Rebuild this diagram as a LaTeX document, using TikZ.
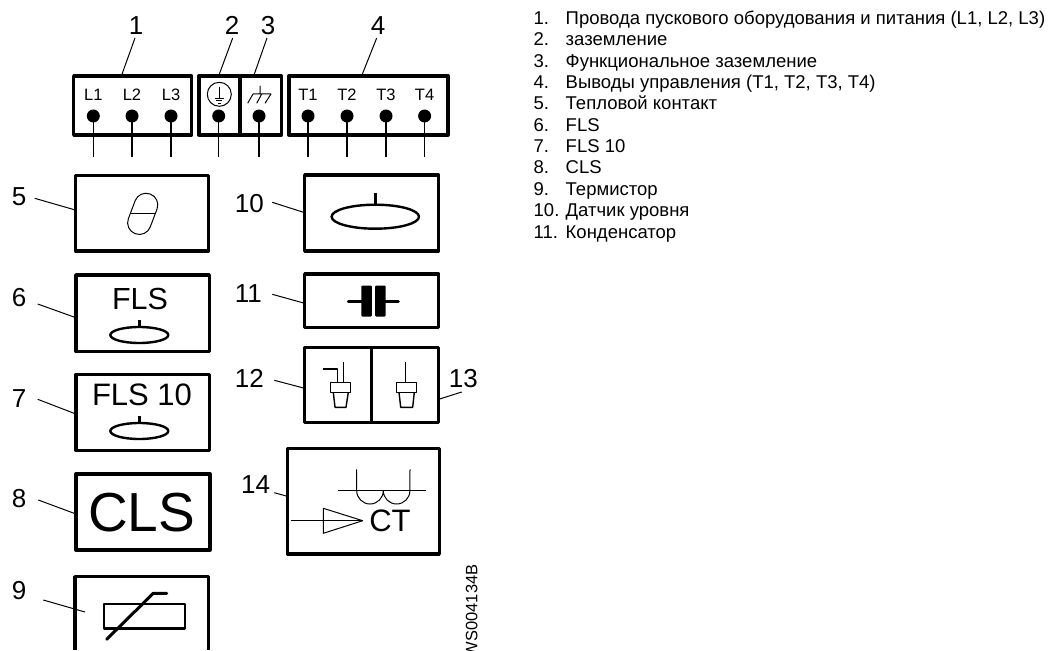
\documentclass[tikz,border=0pt]{standalone}
\usepackage{fontspec}
\usetikzlibrary{shapes.geometric}
\setmainfont{Liberation Sans}
\begin{document}
\begin{tikzpicture}[x=1pt,y=-1pt,line join=round,
  frame/.style={draw,line width=3.3pt,inner sep=0pt,outer sep=0pt},
  lead/.style={draw,line width=1pt},
  wire/.style={draw,line width=1.5pt},
  thin sym/.style={draw,line width=1pt},
  sym/.style={draw,line width=1.4pt},
  heavy/.style={draw,line width=2.4pt},
  dot/.style={circle,fill=black,minimum size=13pt,inner sep=0pt,outer sep=0pt},
  num/.style={inner sep=0pt,font=\fontsize{26}{26}\selectfont},
  term/.style={inner sep=0pt,font=\fontsize{16.5}{16.5}\selectfont},
  big/.style={inner sep=0pt,font=\fontsize{31}{31}\selectfont},
  item/.style={inner sep=0pt,anchor=base west,font=\fontsize{18.5}{18.5}\selectfont}]
\useasboundingbox (0,0) rectangle (1056,650);
% terminal boxes
\node[frame,minimum width=118pt,minimum height=59pt] (bL) at (132.6,105.5) {};
\node[frame,minimum width=41pt,minimum height=59pt] (bG) at (219.5,105.5) {};
\node[frame,minimum width=41.5pt,minimum height=59pt] (bF) at (260.5,105.5) {};
\node[frame,minimum width=159pt,minimum height=59pt] (bT) at (368.5,105.5) {};
% terminals
\foreach \n/\x/\t in {L1/93.3/L1,L2/132/L2,L3/171/L3,T1/308/T1,T2/347/T2,T3/386/T3,T4/424.6/T4}{
  \node[term] (t\n) at (\x,95) {\t};
}
\foreach \n/\x in {L1/93.3,L2/132,L3/171,G/218.7,F/259,T1/308,T2/347,T3/386,T4/424.6}{
  \node[dot] (d\n) at (\x,116) {};
  \coordinate (e\n) at (\x,157);
  \draw[wire] (d\n.center) -- (e\n);
}
% earth symbol
\node[draw,circle,line width=1pt,minimum size=24pt,inner sep=0pt] (earth) at (219.3,94.3) {};
\draw[thin sym] (219.3,87.5) -- (219.3,98.3) (214.6,98.3) -- (224,98.3) (216.3,101) -- (222.3,101) (218,103.3) -- (220.6,103.3);
% functional earth
\draw[thin sym] (260,86) -- (260,94) (253,94) -- (271,94)
  (253,94) -- (247.7,103.3) (261.7,94) -- (256.7,103.3) (271,94) -- (265,103.3);
% callouts 1-4
\node[num] (n1) at (136,25.7) {1};
\node[num] (n2) at (232,25.7) {2};
\node[num] (n3) at (268,25.7) {3};
\node[num] (n4) at (378,25.7) {4};
\coordinate (a1) at (135,38); \coordinate (a2) at (232.7,38); \coordinate (a3) at (267,38); \coordinate (a4) at (376.7,38);
\coordinate (c1) at (121.7,75); \coordinate (c2) at (219,75); \coordinate (c3) at (254,75); \coordinate (c4) at (362,75);
\foreach \i in {1,2,3,4}{\draw[lead] (a\i) -- (c\i);}
% left column
\node[frame,minimum width=133.4pt,minimum height=75.3pt] (b5) at (142,213.3) {};
\node[frame,minimum width=133.4pt,minimum height=76.7pt] (b6) at (142.6,313.3) {};
\node[frame,minimum width=133.4pt,minimum height=76.4pt] (b7) at (142.6,412.5) {};
\node[frame,minimum width=134pt,minimum height=76pt] (b8) at (143,512) {};
\coordinate (b9a) at (75,650); \coordinate (b9b) at (75,576.7); \coordinate (b9c) at (208.7,576.7); \coordinate (b9d) at (208.7,650);
\draw[line width=3.3pt] (b9a) -- (b9b) -- (b9c) -- (b9d);
\node[num] (n5) at (19,196.7) {5};
\node[num] (n6) at (19,297.7) {6};
\node[num] (n7) at (19,398.5) {7};
\node[num] (n8) at (19,499) {8};
\node[num] (n9) at (19,590.7) {9};
\draw[lead] (34.7,198.3) -- (b5.west |- 0,210);
\draw[lead] (37.7,304) -- (b6.west |- 0,317.7);
\draw[lead] (37.7,399.3) -- (b7.west |- 0,414);
\draw[lead] (38.3,500) -- (b8.west |- 0,514);
\draw[lead] (43.3,600) -- (85,612);
% thermal contact
\begin{scope}[shift={(142.7,213.85)},rotate=-20.7]
  \draw[line width=1pt,rounded corners=11.6pt] (-11.7,-21.2) rectangle (11.7,21.2);
\end{scope}
\draw[thin sym] (130.7,213.3) -- (155.7,213.3);
% FLS
\node[big,font=\fontsize{30.5}{30.5}\selectfont] (fls) at (140,299.3) {FLS};
\node[draw,ellipse,line width=2.4pt,minimum width=58pt,minimum height=16pt,inner sep=0pt] (e6) at (139.3,335) {};
\coordinate (s6) at (139.3,320);
\draw[heavy] (s6) -- (e6.north);
\node[big] (fls10) at (142,395) {FLS 10};
\node[draw,ellipse,line width=2.4pt,minimum width=58pt,minimum height=16pt,inner sep=0pt] (e7) at (139.3,431) {};
\coordinate (s7) at (139.3,416);
\draw[heavy] (s7) -- (e7.north);
\node[inner sep=0pt,font=\fontsize{55}{55}\selectfont] (cls) at (141.7,512.7) {CLS};
% thermistor
\node[draw,line width=2.5pt,minimum width=81pt,minimum height=24.3pt,inner sep=0pt] (th) at (144.5,616.2) {};
\draw[line width=3pt,line cap=round] (106.7,639.3) -- (153.3,593.3) -- (166.7,593.3);
% right column
\node[frame,minimum width=134pt,minimum height=76pt] (b10) at (371.7,213) {};
\node[frame,minimum width=134pt,minimum height=53.7pt] (b11) at (371.7,300.85) {};
\node[frame,minimum width=67pt,minimum height=74.6pt] (b12) at (338.2,385) {};
\node[frame,minimum width=67pt,minimum height=74.6pt] (b13) at (405.2,385) {};
\node[frame,minimum width=152pt,minimum height=105.7pt] (b14) at (363.3,501.15) {};
\node[num] (n10) at (249.3,203.3) {10};
\node[num] (n11) at (248.3,294) {11};
\node[num] (n12) at (249.3,378.3) {12};
\node[num] (n13) at (463.3,378.3) {13};
\node[num] (n14) at (255.7,484.3) {14};
\draw[lead] (272.3,202.3) -- (b10.west |- 0,212.7);
\draw[lead] (272.3,294.3) -- (b11.west |- 0,303.3);
\draw[lead] (274.3,380.3) -- (b12.west |- 0,388.3);
\draw[lead] (461.7,392) -- (b13.east |- 0,399.3);
\draw[lead] (274.3,492.7) -- (b14.west |- 0,496.3);
% level sensor
\node[draw,ellipse,line width=2.4pt,minimum width=87.4pt,minimum height=24pt,inner sep=0pt] (e10) at (375.3,216.7) {};
\coordinate (s10) at (375.3,192.7);
\draw[heavy] (s10) -- (e10.north);
% capacitor
\node[fill=black,rounded corners=1pt,minimum width=10.5pt,minimum height=31pt,inner sep=0pt] (p1) at (366.7,301) {};
\node[fill=black,rounded corners=1pt,minimum width=10.5pt,minimum height=31pt,inner sep=0pt] (p2) at (380.3,301) {};
\coordinate (w1) at (348.3,301); \coordinate (w2) at (398.3,301);
\draw[line width=3pt,line cap=round] (w1) -- (p1.center) (p2.center) -- (w2);
% connectors 12, 13
\draw[sym] (330.7,382.3) rectangle (350.7,392.3);
\draw[sym] (333.3,392.3) -- (335,407.3) -- (346,407.3) -- (348.3,392.3);
\draw[sym] (343.3,362.3) -- (343.3,382.3);
\draw[sym] (323.3,369) -- (337.3,369) -- (337.3,382.3);
\draw[sym] (396.7,382.3) rectangle (416.7,392.3);
\draw[sym] (399,392.3) -- (400.7,407.3) -- (412.7,407.3) -- (414.3,392.3);
\draw[sym] (405.7,362.3) -- (405.7,382.3);
% CT
\draw[thin sym] (338.3,490.7) -- (425.7,490.7);
\draw[thin sym] (356.7,469.3) -- (356.7,490.7) arc[start angle=180,end angle=360,x radius=13.3pt,y radius=13.3pt]
  arc[start angle=180,end angle=360,x radius=13.3pt,y radius=13.3pt] -- (410,469.3);
\coordinate (tip) at (362.7,520.7);
\draw[thin sym] (323.3,508.3) -- (tip) -- (323.3,533.3) -- cycle;
\coordinate (in) at (290.7,520.7);
\draw[thin sym] (in) -- (tip);
\node[big] (ct) at (390,521) {CT};
\node[term,rotate=90,anchor=east] (code) at (471.7,564.3) {WS004134B};
% list
\foreach \i/\l/\t [evaluate=\i as \yy using 24.5+21.35*(\i-1)] in {
  1/1./{Провода пускового оборудования и питания (L1, L2, L3)},
  2/2./{заземление},
  3/3./{Функциональное заземление},
  4/4./{Выводы управления (T1, T2, T3, T4)},
  5/5./{Тепловой контакт},
  6/6./{FLS},
  7/7./{FLS 10},
  8/8./{CLS},
  9/9./{Термистор},
  10/10./{Датчик уровня},
  11/11./{Конденсатор}}{
  \node[item] (ln\i) at (533.5,\yy) {\l};
  \node[item] (lt\i) at (565.5,\yy) {\t};
}
\end{tikzpicture}
\end{document}
